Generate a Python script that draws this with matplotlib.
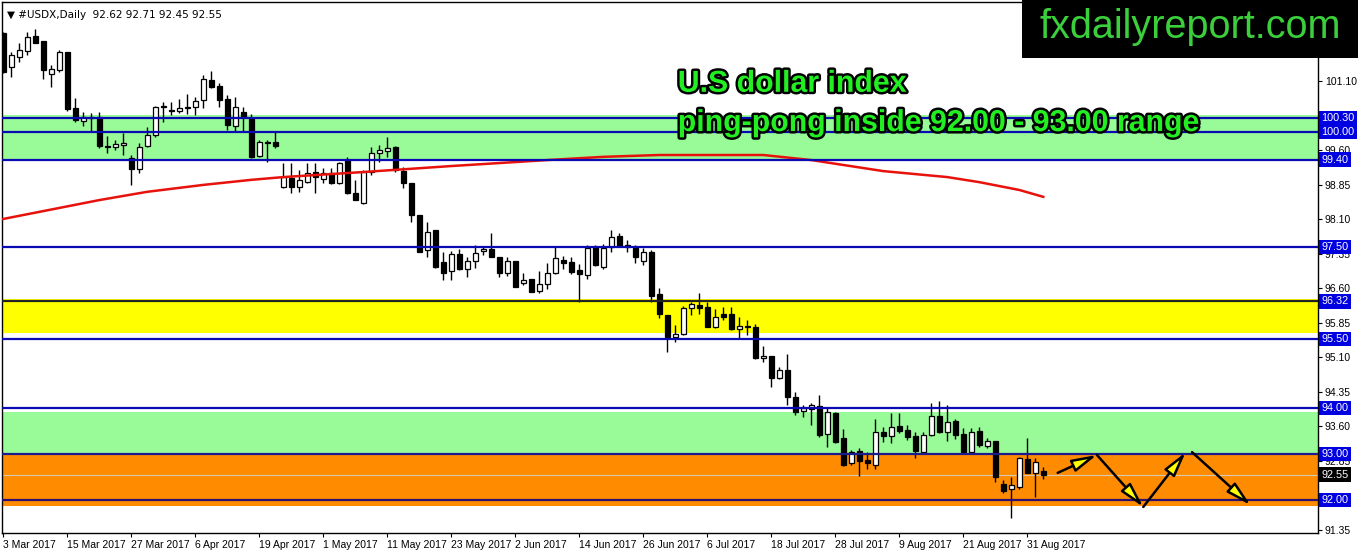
import matplotlib.pyplot as plt
import matplotlib.patheffects as pe
from matplotlib.patches import Rectangle
import numpy as np

# daily candles (bar index 0 = 3 Mar 2017)
opens = [102.15, 101.41, 101.63, 101.76, 102.09, 101.98, 101.26, 101.35, 101.74, 100.52,
         100.24, 100.33, 100.33, 99.70, 99.67, 99.72, 99.43, 99.20, 99.70, 99.93,
         100.57, 100.48, 100.46, 100.52, 100.54, 100.70, 101.13, 101.00, 100.72, 100.13,
         100.43, 100.28, 99.48, 99.78, 99.78, 98.80, 99.00, 98.80, 98.91, 99.13,
         98.98, 99.11, 98.89, 99.39, 98.67, 98.46, 99.13, 99.54, 99.59, 99.67,
         99.15, 98.89, 98.20, 97.43, 97.87, 97.17, 96.98, 97.35, 97.02, 97.20,
         97.41, 97.46, 97.28, 96.93, 97.20, 96.72, 96.80, 96.54, 96.70, 96.93,
         97.22, 97.17, 97.00, 96.89, 97.50, 97.07, 97.50, 97.74, 97.54, 97.48,
         97.20, 97.39, 96.48, 96.02, 95.54, 95.61, 96.17, 96.24, 96.20, 95.76,
         96.04, 96.04, 95.72, 95.76, 95.76, 95.09, 95.13, 94.65, 94.83, 94.24,
         93.93, 93.98, 94.04, 93.43, 93.89, 93.35, 92.80, 93.07, 92.87, 92.76,
         93.48, 93.39, 93.61, 93.52, 93.39, 93.04, 93.41, 93.83, 93.48, 93.72,
         93.43, 93.04, 93.50, 93.17, 93.28, 92.35, 92.24, 92.28, 92.89, 92.59,
         92.62]
highs = [102.17, 101.74, 101.93, 102.17, 102.24, 101.98, 101.46, 101.78, 101.74, 100.74,
         100.43, 100.41, 100.43, 99.91, 99.83, 99.98, 99.50, 99.76, 100.11, 100.57,
         100.65, 100.65, 100.72, 100.83, 100.76, 101.24, 101.33, 101.07, 100.80, 100.76,
         100.54, 100.39, 99.83, 99.83, 100.00, 99.33, 99.33, 99.17, 99.33, 99.33,
         99.22, 99.22, 99.35, 99.46, 98.96, 99.17, 99.67, 99.72, 99.89, 99.70,
         99.24, 98.89, 98.20, 98.04, 97.87, 97.39, 97.41, 97.46, 97.28, 97.54,
         97.52, 97.80, 97.28, 97.28, 97.20, 96.93, 96.80, 96.98, 97.15, 97.50,
         97.30, 97.28, 97.13, 97.54, 97.54, 97.57, 97.87, 97.80, 97.65, 97.54,
         97.48, 97.43, 96.61, 96.02, 95.80, 96.22, 96.30, 96.50, 96.30, 96.15,
         96.20, 96.20, 95.98, 95.91, 95.83, 95.35, 95.13, 94.89, 95.17, 94.35,
         94.07, 94.11, 94.28, 94.02, 93.91, 93.54, 93.09, 93.13, 93.04, 93.76,
         93.59, 93.89, 93.89, 93.63, 93.48, 93.48, 94.11, 94.15, 94.07, 93.76,
         93.57, 93.57, 93.59, 93.35, 93.28, 92.43, 92.50, 92.93, 93.35, 92.91,
         92.71]
lows = [101.28, 101.20, 101.52, 101.67, 101.93, 101.15, 100.98, 101.30, 100.46, 100.22,
        100.13, 100.02, 99.65, 99.54, 99.61, 99.50, 98.85, 99.11, 99.67, 99.89,
        100.22, 100.37, 100.41, 100.39, 100.37, 100.52, 100.96, 100.54, 100.04, 100.00,
        100.00, 99.43, 99.46, 99.35, 99.65, 98.78, 98.67, 98.70, 98.89, 98.67,
        98.89, 98.87, 98.87, 98.65, 98.52, 98.43, 99.07, 99.35, 99.46, 99.13,
        98.78, 98.04, 97.39, 97.28, 97.04, 96.78, 96.78, 97.00, 96.85, 97.04,
        97.33, 97.28, 96.85, 96.87, 96.63, 96.67, 96.52, 96.50, 96.59, 96.91,
        97.02, 96.91, 96.30, 96.80, 97.09, 97.02, 97.39, 97.50, 97.39, 97.15,
        97.11, 96.30, 95.96, 95.22, 95.43, 95.59, 96.02, 96.04, 95.76, 95.74,
        95.91, 95.70, 95.52, 95.59, 95.07, 95.00, 94.46, 94.63, 94.07, 93.85,
        93.80, 93.63, 93.37, 93.15, 93.24, 92.74, 92.76, 92.52, 92.67, 92.67,
        93.26, 93.24, 93.46, 93.30, 92.91, 93.02, 93.39, 93.46, 93.28, 93.33,
        93.02, 93.02, 93.15, 93.13, 92.39, 92.15, 91.61, 92.24, 92.59, 92.07,
        92.45]
closes = [101.30, 101.67, 101.78, 102.07, 101.93, 101.35, 101.37, 101.74, 100.50, 100.26,
          100.33, 100.30, 99.70, 99.67, 99.74, 99.76, 99.20, 99.67, 99.93, 100.54,
          100.54, 100.46, 100.52, 100.54, 100.67, 101.15, 100.98, 100.70, 100.15, 100.54,
          100.33, 99.46, 99.78, 99.76, 99.70, 99.02, 98.80, 98.96, 99.11, 99.02,
          99.11, 98.89, 99.33, 98.67, 98.52, 99.13, 99.54, 99.61, 99.65, 99.17,
          98.89, 98.20, 97.39, 97.83, 97.07, 96.93, 97.35, 97.02, 97.20, 97.37,
          97.46, 97.28, 96.93, 97.20, 96.63, 96.78, 96.52, 96.70, 96.93, 97.26,
          97.15, 96.96, 96.91, 97.48, 97.11, 97.48, 97.72, 97.52, 97.50, 97.28,
          97.39, 96.43, 96.04, 95.54, 95.61, 96.17, 96.26, 96.17, 95.76, 95.98,
          95.98, 95.72, 95.78, 95.76, 95.09, 95.13, 94.65, 94.83, 94.24, 93.91,
          94.00, 94.07, 93.41, 93.91, 93.26, 92.76, 93.04, 92.85, 92.80, 93.48,
          93.39, 93.59, 93.50, 93.37, 93.07, 93.41, 93.83, 93.48, 93.70, 93.41,
          93.04, 93.48, 93.20, 93.28, 92.50, 92.20, 92.33, 92.91, 92.59, 92.83,
          92.55]

# moving average (red line), sampled at bar indices
ma_idx = [0, 12, 18, 25, 31, 35, 45, 56, 68, 75, 82, 95, 101, 110, 118, 122, 127, 130]
ma_val = [98.11, 98.52, 98.70, 98.85, 98.96, 99.02, 99.13, 99.26, 99.39, 99.46,
          99.50, 99.50, 99.39, 99.15, 99.02, 98.91, 98.74, 98.59]

date_labels = ["3 Mar 2017", "15 Mar 2017", "27 Mar 2017", "6 Apr 2017", "19 Apr 2017",
               "1 May 2017", "11 May 2017", "23 May 2017", "2 Jun 2017", "14 Jun 2017",
               "26 Jun 2017", "6 Jul 2017", "18 Jul 2017", "28 Jul 2017", "9 Aug 2017",
               "21 Aug 2017", "31 Aug 2017"]
date_idx = [8 * k for k in range(len(date_labels))]

price_ticks = [91.35, 92.10, 92.85, 93.60, 94.35, 95.10, 95.85, 96.60, 97.35,
               98.10, 98.85, 99.60, 100.35, 101.10, 101.85]
hidden_ticks = [92.10, 100.35, 101.85]  # covered by the level labels / logo

# zones: (low, high, colour)
zones = [(99.40, 100.37, "#98fb98"),
         (95.62, 96.37, "#ffff00"),
         (93.00, 93.91, "#98fb98"),
         (91.87, 93.00, "#ff8c00")]
blue_levels = [100.30, 100.00, 99.40, 97.50, 95.50, 94.00, 93.00, 92.00]
black_level = 96.32
last_price = 92.55

# projected path (bar index, price)
path_x = [131.8, 136.7, 142.5, 147.8]
path_y = [92.59, 92.98, 91.85, 93.04]
arrow2_x = [148.6, 155.9]
arrow2_y = [93.04, 91.89]

fig = plt.figure(figsize=(13.58, 5.54), dpi=100)
ax = fig.add_axes([2 / 1358, 21 / 554, 1316 / 1358, 531 / 554])
ax.set_xlim(-0.16, 164.34)
ax.set_ylim(91.283, 102.826)

for lo, hi, c in zones:
    ax.axhspan(lo, hi, color=c, lw=0, zorder=0.5)

ax.axhline(last_price, color="#d9c9b0", lw=0.8, zorder=1)

x = np.arange(len(opens))
o = np.array(opens)
c = np.array(closes)
up = c >= o
ax.vlines(x, lows, highs, color="black", lw=1, zorder=3)
body_lo = np.minimum(o, c)
body_h = np.maximum(np.abs(c - o), 0.012)
ax.bar(x[up], body_h[up], bottom=body_lo[up], width=0.62, color="white",
       edgecolor="black", lw=0.9, zorder=3.2)
ax.bar(x[~up], body_h[~up], bottom=body_lo[~up], width=0.62, color="black",
       edgecolor="black", lw=0.9, zorder=3.2)

ax.plot(ma_idx, ma_val, color="#e8120c", lw=1.8, zorder=3.5)

for lvl in blue_levels:
    col = "#0a0ab4"
    if lvl == 92.00:
        col = "#2e0f70"
    elif lvl == 93.00:
        col = "#1c1a8c"
    ax.axhline(lvl, color=col, lw=1.6, zorder=4)
ax.axhline(black_level, color="#222222", lw=1.6, zorder=4)

# arrows
head = "-|>,head_length=1.5,head_width=0.38"
for i in range(len(path_x) - 1):
    ax.annotate("", xy=(path_x[i + 1], path_y[i + 1]), xytext=(path_x[i], path_y[i]),
                arrowprops=dict(arrowstyle=head, fc="#ffff00", ec="black", lw=1.8,
                                shrinkA=0, shrinkB=0), zorder=5)
ax.annotate("", xy=(arrow2_x[1], arrow2_y[1]), xytext=(arrow2_x[0], arrow2_y[0]),
            arrowprops=dict(arrowstyle=head, fc="#ffff00", ec="black", lw=1.8,
                            shrinkA=0, shrinkB=0), zorder=5)

# axes styling
for s in ax.spines.values():
    s.set_color("black")
    s.set_linewidth(1)
ax.yaxis.tick_right()
ax.set_yticks(price_ticks)
ax.set_yticklabels(["" if p in hidden_ticks else f"{p:.2f}" for p in price_ticks])
ax.set_xticks(date_idx)
ax.set_xticklabels(date_labels, ha="left")
ax.tick_params(axis="both", direction="out", length=3, width=0.8, labelsize=7.5,
               colors="black", pad=2)
for lab in ax.get_yticklabels() + ax.get_xticklabels():
    lab.set_fontfamily("Liberation Sans")

# price labels on the right axis
for lvl in blue_levels + [black_level]:
    ax.annotate(f"{lvl:.2f}", xy=(1, lvl), xycoords=("axes fraction", "data"),
                xytext=(2.5, 0), textcoords="offset points", ha="left", va="center",
                fontsize=7.8, family="Liberation Sans", color="white", zorder=6,
                annotation_clip=False,
                bbox=dict(boxstyle="square,pad=0.22", fc="#0000e0", ec="none"))
ax.annotate(f"{last_price:.2f}", xy=(1, last_price), xycoords=("axes fraction", "data"),
            xytext=(2.5, 0), textcoords="offset points", ha="left", va="center",
            fontsize=7.8, family="Liberation Sans", color="white", zorder=6,
            annotation_clip=False,
            bbox=dict(boxstyle="square,pad=0.22", fc="black", ec="none"))

# header
ax.text(0.004, 0.985, "\u25bc #USDX,Daily  92.62 92.71 92.45 92.55", transform=ax.transAxes,
        ha="left", va="top", fontsize=7.5, family="DejaVu Sans", color="black", zorder=6)

# title overlay
stroke = [pe.withStroke(linewidth=3.5, foreground="black")]
ax.text(0.5135, 0.846, "U.S dollar index", transform=ax.transAxes, ha="left", va="center",
        fontsize=21.8, fontweight="bold", family="Liberation Sans", color="#22ee22",
        path_effects=stroke, zorder=7)
ax.text(0.5135, 0.772, "ping-pong inside 92.00 - 93.00 range", transform=ax.transAxes,
        ha="left", va="center", fontsize=21.8, fontweight="bold", family="Liberation Sans",
        color="#22ee22", path_effects=stroke, zorder=7)

# watermark box
fig.add_artist(Rectangle((1022 / 1358, 496 / 554), 336 / 1358, 58 / 554,
                         transform=fig.transFigure, fc="black", ec="none", zorder=10))
fig.text(1190 / 1358, 527 / 554, "fxdailyreport.com", ha="center", va="center",
         fontsize=28.5, family="Liberation Sans", color="#3ccf3c", zorder=11)

fig.savefig("out.png", dpi=100)
